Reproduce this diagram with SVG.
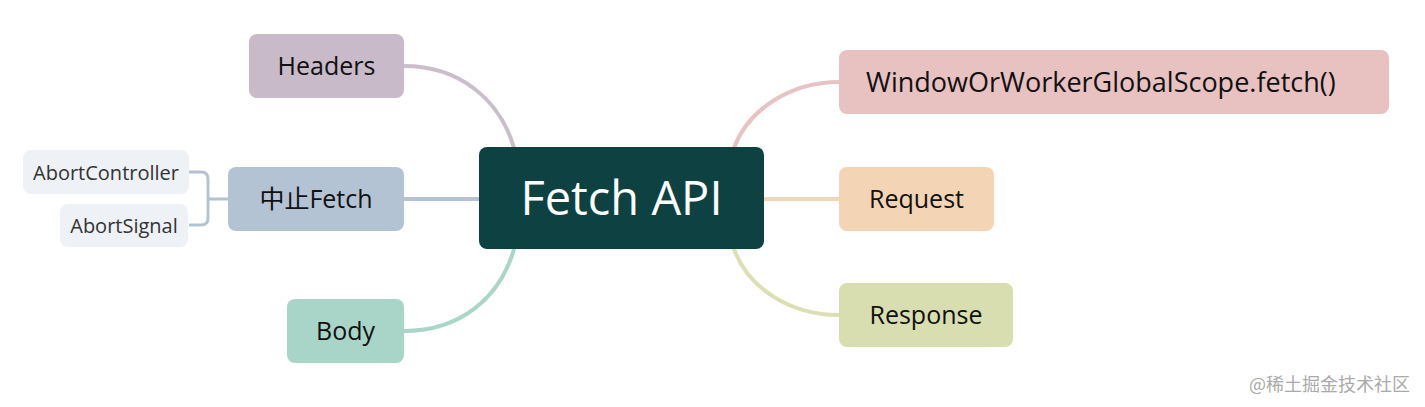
<svg xmlns="http://www.w3.org/2000/svg" width="1425" height="407" viewBox="0 0 1425 407">
<style>
.t{font-family:"Open Sans","Noto Sans CJK SC",sans-serif;fill:#111;text-anchor:middle;dominant-baseline:central}
.m{font-size:25px}
.s{font-size:20px;fill:#333}
.c{fill:none;stroke-width:4;stroke-linecap:round}
</style>
<rect width="1425" height="407" fill="#fff"/>
<g id="connectors">
<path class="c" stroke="#cbbecb" d="M404,66 C460,66 500,100 514,148"/>
<path class="c" stroke="#b3c3d3" d="M404,199 L479,199"/>
<path class="c" stroke="#aad6c9" d="M404,331 C460,331 500,298 514,249"/>
<path class="c" stroke="#e8c3c3" d="M839,82 C790,82 748,110 734,148"/>
<path class="c" stroke="#f3d6b6" d="M764,199 L839,199"/>
<path class="c" stroke="#dbdfb3" d="M839,315 C790,315 748,288 734,249"/>
<path fill="none" stroke="#b3c3d3" stroke-width="3" d="M189,172 L201,172 Q208,172 208,179 L208,218 Q208,225 201,225 L189,225 M208,199 L228,199"/>
</g>
<g id="root"><rect x="479" y="147" width="285" height="102" rx="8" fill="#0e4242"/><text class="t" x="621.5" y="197" font-size="47" style="fill:#fff">Fetch API</text></g>
<g id="headers"><rect x="249" y="34" width="155" height="64" rx="8" fill="#c9bac9"/><text class="t m" x="326.5" y="65">Headers</text></g>
<g id="abort"><rect x="228" y="167" width="176" height="64" rx="8" fill="#b3c3d3"/><text class="t m" x="316" y="198">中止Fetch</text></g>
<g id="abortcontroller"><rect x="23" y="150" width="166" height="44" rx="8" fill="#eef1f6"/><text class="t s" x="106" y="172">AbortController</text></g>
<g id="abortsignal"><rect x="60" y="204" width="128" height="43" rx="8" fill="#eef1f6"/><text class="t s" x="124" y="225.5">AbortSignal</text></g>
<g id="body"><rect x="287" y="299" width="117" height="64" rx="8" fill="#a8d5c8"/><text class="t m" x="345.5" y="330">Body</text></g>
<g id="fetch"><rect x="839" y="50" width="550" height="64" rx="8" fill="#e8c1c1"/><text class="t" x="866" y="81" font-size="27" style="text-anchor:start">WindowOrWorkerGlobalScope.fetch()</text></g>
<g id="request"><rect x="839" y="167" width="155" height="64" rx="8" fill="#f3d5b5"/><text class="t m" x="916.5" y="198">Request</text></g>
<g id="response"><rect x="839" y="283" width="174" height="64" rx="8" fill="#d9deb0"/><text class="t m" x="926" y="314">Response</text></g>
<text x="1410" y="383" font-family="'Noto Sans CJK SC',sans-serif" font-size="18" fill="#aaa" text-anchor="end" dominant-baseline="central">@稀土掘金技术社区</text>
</svg>
